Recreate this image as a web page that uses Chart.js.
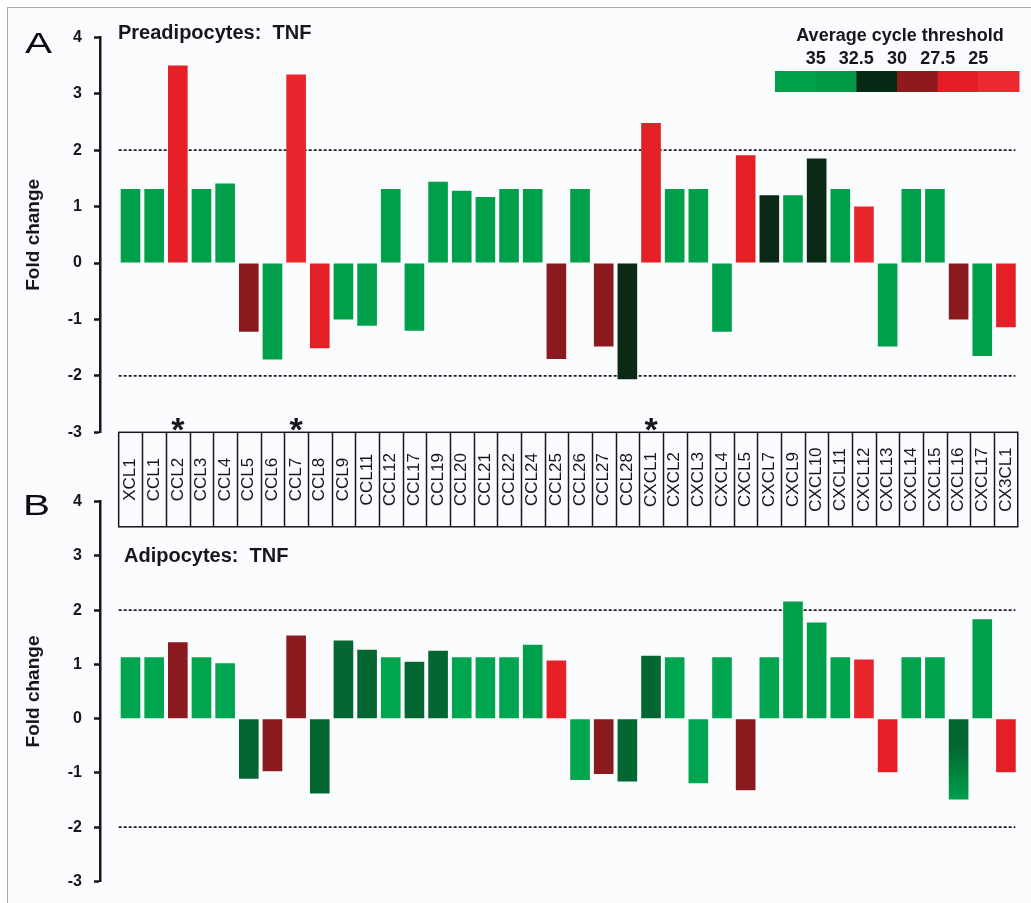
<!DOCTYPE html>
<html>
<head>
<meta charset="utf-8">
<script src="https://cdn.jsdelivr.net/npm/chart.js@4.4.1/dist/chart.umd.min.js"></script>
<style>
  html, body { margin: 0; padding: 0; width: 1031px; height: 903px; overflow: hidden; background: #ffffff; }
  #frame { position: absolute; left: 7px; top: 7px; width: 1100px; height: 1000px;
           border-left: 1.5px solid #a9a9ad; border-top: 1.5px solid #a9a9ad; background: #fbfcfe; }
  canvas { position: absolute; left: 0; }
  #panelA { top: 0; }
  #panelB { top: 480px; }
</style>
</head>
<body>
<div id="frame"></div>
<canvas id="panelA" width="1031" height="540"></canvas>
<canvas id="panelB" width="1031" height="423"></canvas>
<script>
// ---- data ---------------------------------------------------------------
const categories = ['XCL1','CCL1','CCL2','CCL3','CCL4','CCL5','CCL6','CCL7','CCL8','CCL9',
  'CCL11','CCL12','CCL17','CCL19','CCL20','CCL21','CCL22','CCL24','CCL25','CCL26',
  'CCL27','CCL28','CXCL1','CXCL2','CXCL3','CXCL4','CXCL5','CXCL7','CXCL9','CXCL10',
  'CXCL11','CXCL12','CXCL13','CXCL14','CXCL15','CXCL16','CXCL17','CX3CL1'];

// fold change after TNF treatment
const preadipocyteFold = [1.31, 1.31, 3.50, 1.31, 1.41, -1.22, -1.71, 3.34, -1.51, -1.00,
  -1.11, 1.31, -1.20, 1.44, 1.28, 1.17, 1.31, 1.31, -1.70, 1.31,
  -1.48, -2.06, 2.48, 1.31, 1.31, -1.22, 1.91, 1.20, 1.20, 1.85,
  1.31, 1.00, -1.48, 1.31, 1.31, -1.00, -1.65, -1.14];

const adipocyteFold = [1.13, 1.13, 1.41, 1.13, 1.02, -1.11, -0.97, 1.53, -1.38, 1.44,
  1.27, 1.13, 1.05, 1.25, 1.13, 1.13, 1.13, 1.36, 1.07, -1.13,
  -1.02, -1.16, 1.16, 1.13, -1.19, 1.13, -1.32, 1.13, 2.16, 1.77,
  1.13, 1.09, -0.99, 1.13, 1.13, -1.49, 1.83, -0.99];

// average cycle threshold per gene (a pair means the value shifts along the bar)
const preadipocyteCt = [36, 36, 26, 36, 36, 28.8, 36, 24.5, 26, 36,
  36, 36, 36, 36, 36, 36, 36, 36, 28.8, 36,
  28.8, 31.2, 26, 36, 36, 36, 26, 31.2, 36, 31.2,
  36, 24.5, 36, 36, 36, 28.8, 36, 26];

const adipocyteCt = [37.5, 37.5, 28.8, 37.5, 37.5, 32.6, 28.8, 28.8, 32.6, 32.6,
  32.6, 37.5, 32.6, 32.6, 37.5, 37.5, 37.5, 36, 26, 37.5,
  28.8, 32.6, 32.6, 37.5, 37.5, 37.5, 28.8, 37.5, 36, 36,
  36.5, 24.5, 26, 36.5, 36.5, [32.6, 36], 36, 26];

const significantGenes = ['CCL2', 'CCL7', 'CXCL1'];
const thresholds = [2, -2];

const ctScaleLabels = ['35', '32.5', '30', '27.5', '25'];
const ctScaleSwatches = [36.25, 33.75, 31.25, 28.75, 26.25, 23.75];

// ---- styling ------------------------------------------------------------
const FONT = '"Liberation Sans", Arial, Helvetica, sans-serif';
const INK = '#16161e';
Chart.defaults.font.family = FONT;
Chart.defaults.color = INK;

// colour ramp for cycle threshold: high Ct green, mid very dark, low Ct red
const ctColorStops = [
  [38.0, [0, 166, 81]],
  [36.25, [0, 161, 75]],
  [33.75, [0, 153, 72]],
  [31.25, [8, 42, 21]],
  [28.75, [142, 26, 30]],
  [26.25, [227, 30, 37]],
  [23.75, [234, 42, 46]]
];

function colorForCt(ct) {
  const s = ctColorStops;
  if (ct >= s[0][0]) return `rgb(${s[0][1].join(',')})`;
  for (let i = 0; i < s.length - 1; i++) {
    const [c0, a] = s[i], [c1, b] = s[i + 1];
    if (ct <= c0 && ct >= c1) {
      const t = (c0 - ct) / (c0 - c1);
      const rgb = a.map((v, k) => Math.round(v + (b[k] - v) * t));
      return `rgb(${rgb.join(',')})`;
    }
  }
  return `rgb(${s[s.length - 1][1].join(',')})`;
}

function barColor(context, ctList) {
  const ct = ctList[context.dataIndex];
  if (!Array.isArray(ct)) return colorForCt(ct);
  const chart = context.chart;
  const ys = chart.scales.y;
  if (!chart.chartArea || !ys) return colorForCt(ct[0]);
  const y0 = ys.getPixelForValue(0);
  const y1 = ys.getPixelForValue(context.raw.y);
  const g = chart.ctx.createLinearGradient(0, y0, 0, y1);
  g.addColorStop(0, colorForCt(ct[0]));
  g.addColorStop(0.35, colorForCt(ct[0]));
  g.addColorStop(1, colorForCt(ct[1]));
  return g;
}

// x range in category units: the axis sits a little left of the first gene
const X_MIN = -1.289, X_MAX = 37.595;

// ---- text, gene-name box and Ct legend drawn onto each panel ---------------
const panelText = {
  id: 'panelText',
  afterDraw(chart, args, o) {
    const ctx = chart.ctx;
    const xs = chart.scales.x;
    ctx.save();
    ctx.fillStyle = INK;

    // panel letter (wide face)
    ctx.save();
    ctx.translate(o.letterX, o.letterY);
    ctx.scale(1.35, 1);
    ctx.font = `30px ${FONT}`;
    ctx.textAlign = 'left';
    ctx.textBaseline = 'alphabetic';
    ctx.fillStyle = '#0c0c10';
    ctx.fillText(o.letter, 0, 0);
    ctx.restore();

    // panel title
    ctx.font = `bold 20px ${FONT}`;
    ctx.textAlign = 'left';
    ctx.textBaseline = 'alphabetic';
    ctx.fillText(o.title, o.titleX, o.titleY);

    // significance marks
    if (o.marked) {
      ctx.font = `bold 34px ${FONT}`;
      ctx.textAlign = 'center';
      for (const name of o.marked) {
        const i = categories.indexOf(name);
        ctx.fillText('*', xs.getPixelForValue(i), o.markY);
      }
    }

    // gene names in a boxed row under the panel
    if (o.boxHeight) {
      const top = chart.chartArea.bottom;
      const bottom = top + o.boxHeight;
      const left = xs.getPixelForValue(-0.5);
      const right = xs.getPixelForValue(categories.length - 0.5);
      ctx.strokeStyle = INK;
      ctx.lineWidth = 1.5;
      ctx.strokeRect(left, top, right - left, bottom - top);
      ctx.beginPath();
      for (let i = 1; i < categories.length; i++) {
        const x = Math.round(xs.getPixelForValue(i - 0.5)) + 0.5;
        ctx.moveTo(x, top);
        ctx.lineTo(x, bottom);
      }
      ctx.stroke();
      ctx.font = `17px ${FONT}`;
      ctx.textAlign = 'center';
      ctx.textBaseline = 'middle';
      categories.forEach((name, i) => {
        ctx.save();
        ctx.translate(xs.getPixelForValue(i), (top + bottom) / 2);
        ctx.rotate(-Math.PI / 2);
        ctx.fillText(name, 0, 0);
        ctx.restore();
      });
    }

    // cycle-threshold colour key
    if (o.legend) {
      const L = o.legend;
      ctx.textBaseline = 'alphabetic';
      ctx.textAlign = 'center';
      ctx.font = `bold 18px ${FONT}`;
      ctx.fillText('Average cycle threshold', L.titleX, L.titleY);
      const w = L.width / ctScaleSwatches.length;
      ctScaleSwatches.forEach((ct, i) => {
        ctx.fillStyle = colorForCt(ct);
        ctx.fillRect(L.x + i * w, L.y, w + 0.5, L.height);
      });
      ctx.fillStyle = INK;
      ctScaleLabels.forEach((lab, i) => {
        ctx.fillText(lab, L.x + (i + 1) * w, L.labelY);
      });
    }
    ctx.restore();
  }
};

function makePanel(canvasId, fold, ctList, pad, textOpts) {
  return new Chart(document.getElementById(canvasId), {
    type: 'bar',
    data: {
      datasets: [
        {
          type: 'bar',
          data: fold.map((v, i) => ({ x: i, y: v })),
          backgroundColor: c => barColor(c, ctList),
          borderWidth: 0,
          barPercentage: 0.83,
          categoryPercentage: 1,
          order: 1
        },
        ...thresholds.map(t => ({
          type: 'line',
          data: [{ x: -0.5, y: t }, { x: categories.length - 0.6, y: t }],
          borderColor: '#1e1e26',
          borderWidth: 1.6,
          borderDash: [3, 2],
          pointRadius: 0,
          fill: false,
          order: 2
        }))
      ]
    },
    options: {
      responsive: false,
      animation: false,
      events: [],
      layout: { padding: { left: 0, right: 11, top: pad.top, bottom: pad.bottom } },
      plugins: {
        legend: { display: false },
        tooltip: { enabled: false },
        panelText: textOpts
      },
      scales: {
        x: { type: 'linear', display: false, offset: false, min: X_MIN, max: X_MAX },
        y: {
          min: -3,
          max: 4,
          ticks: { stepSize: 1, font: { size: 16, weight: 'bold' }, color: INK, padding: 12 },
          grid: { display: true, drawOnChartArea: false, drawTicks: true, tickLength: 6, tickWidth: 2.5, tickColor: INK },
          border: { display: true, color: INK, width: 2.5 },
          title: {
            display: true,
            text: 'Fold change',
            font: { size: 19, weight: 'bold' },
            color: INK,
            padding: { top: 22, bottom: 0 }
          },
          afterFit: s => { s.width = 100; }
        }
      }
    },
    plugins: [panelText]
  });
}

makePanel('panelA', preadipocyteFold, preadipocyteCt, { top: 37.3, bottom: 107.7 }, {
  letter: 'A', letterX: 25, letterY: 53,
  title: 'Preadipocytes:  TNF', titleX: 118, titleY: 39,
  marked: significantGenes, markY: 441,
  boxHeight: 94.5,
  legend: { titleX: 900, titleY: 41, labelY: 63.5, x: 775, y: 71, width: 244, height: 21 }
});

makePanel('panelB', adipocyteFold, adipocyteCt, { top: 19.3, bottom: 18.7 }, {
  letter: 'B', letterX: 23, letterY: 35,
  title: 'Adipocytes:  TNF', titleX: 124, titleY: 81.7
});
</script>
</body>
</html>
